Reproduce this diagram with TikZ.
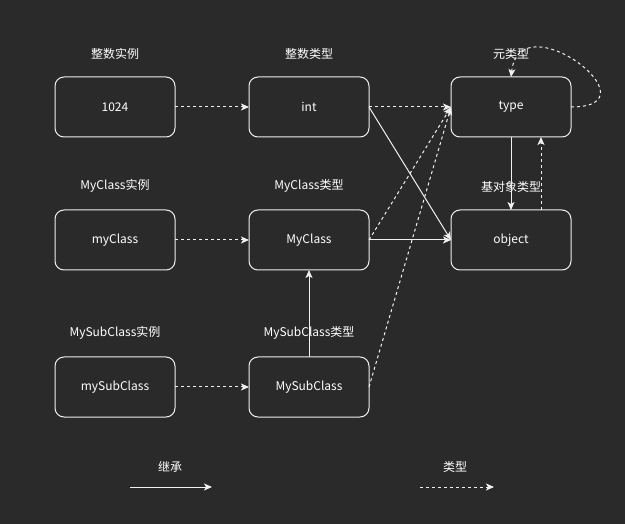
\documentclass[tikz,border=0pt]{standalone}
\usepackage{fontspec}
\setmainfont{Noto Sans CJK SC}
\usetikzlibrary{positioning,arrows.meta}
\definecolor{bgdark}{HTML}{2A2A2A}
\definecolor{linegray}{HTML}{F0F0F0}

\begin{document}
\begin{tikzpicture}
 [x=1pt, y=-1pt,
  box node/.style={draw=linegray, line width=1pt, outer sep=0pt, rounded corners=9pt, minimum width=120pt, minimum height=60pt, text=white, font=\fontsize{12}{14}\selectfont},
  label node/.style={inner sep=0pt, text=white, font=\fontsize{12}{14}\selectfont},
  inherit/.style={draw=linegray, line width=1pt, -{Stealth[length=8pt,width=7pt,inset=2pt]}},
  typeof/.style={draw=linegray, line width=1pt, dash pattern=on 3pt off 3pt, -{Stealth[length=8pt,width=7pt,inset=2pt]}}]

\useasboundingbox[fill=bgdark] (0,0) rectangle (625,524);

\node[box node] (n1024) at (115,107) {1024};
 \node[box node] (int) [right=74pt of n1024] {int};
\node[box node] (type) [right=82pt of int] {type};
 \node[box node] (myClass) [below=73pt of n1024] {myClass};
 \node[box node] (MyClass) [right=74pt of myClass] {MyClass};
\node[box node] (object) [right=82pt of MyClass] {object};
  \node[box node] (mySubClass) [below=87pt of myClass] {mySubClass};
  \node[box node] (MySubClass) [right=74pt of mySubClass] {MySubClass};

% titles above the boxes
\node[label node] (l1024) [above=17pt of n1024] {整数实例};
\node[label node] (lint) [above=17pt of int] {整数类型};
\node[label node] (ltype) [above=17pt of type] {元类型};
\node[label node] (lmyClass) [above=17pt of myClass] {MyClass实例};
\node[label node] (lMyClass) [above=17pt of MyClass] {MyClass类型};
\node[label node] (lobject) [above=17pt of object] {基对象类型};
\node[label node] (lmySubClass) [above=17pt of mySubClass] {MySubClass实例};
\node[label node] (lMySubClass) [above=17pt of MySubClass] {MySubClass类型};

% legend
\node[label node] (linherit) at (170,467) {继承};
\node[label node] (ltypeof) at (455,467) {类型};
\coordinate (ia) at (130,487);
\coordinate (ib) at (212,487);
\coordinate (ta) at (420,487);
\coordinate (tb) at (494,487);

\path
  (n1024) edge [typeof] (int)
  (int) edge [typeof] (type)
  (int.east) edge [inherit] (object.west)
  (myClass) edge [typeof] (MyClass)
  (MyClass.east) edge [typeof] (type.west)
  (MyClass) edge [inherit] (object)
  (mySubClass) edge [typeof] (MySubClass)
  (MySubClass.east) edge [typeof] (type.west)
  (MySubClass) edge [inherit] (MyClass)
  (type) edge [inherit] (object)
  ([xshift=30pt]object.north) edge [typeof] ([xshift=30pt]type.south)
  (ia) edge [inherit] (ib)
  (ta) edge [typeof] (tb);

\draw[typeof] (type.east) .. controls (660,107) and (520,0) .. (type.north);

\end{tikzpicture}
\end{document}
